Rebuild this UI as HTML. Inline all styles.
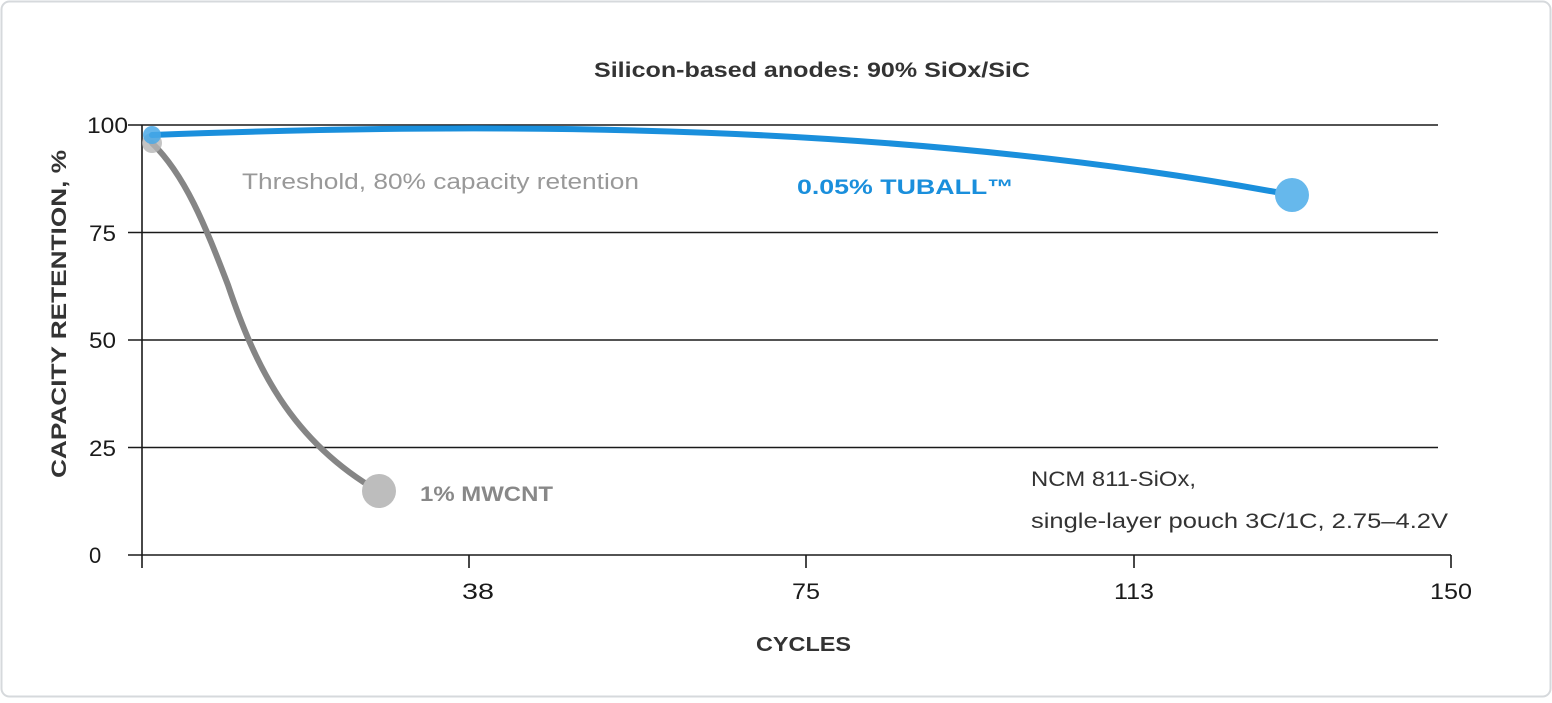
<!DOCTYPE html>
<html><head><style>
html,body{margin:0;padding:0;background:#fff;}
body{width:1552px;height:698px;overflow:hidden;font-family:"Liberation Sans",sans-serif;}
</style></head><body>
<svg width="1552" height="698" viewBox="0 0 1552 698" xmlns="http://www.w3.org/2000/svg" font-family="Liberation Sans, sans-serif">
<rect x="1.5" y="1.5" width="1549" height="695" rx="8" fill="#fff" stroke="#d6d9dc" stroke-width="2"/>
<text x="594" y="77" font-size="21" font-weight="bold" fill="#333" textLength="436" lengthAdjust="spacingAndGlyphs">Silicon-based anodes: 90% SiOx/SiC</text>
<g stroke="#1a1a1a" stroke-width="1.6">
<line x1="128" y1="125" x2="1438" y2="125"/>
<line x1="128" y1="232.5" x2="1438" y2="232.5"/>
<line x1="128" y1="340" x2="1438" y2="340"/>
<line x1="128" y1="447.5" x2="1438" y2="447.5"/>
<line x1="128" y1="555" x2="1451" y2="555"/>
<line x1="142" y1="125" x2="142" y2="568"/>
<line x1="469" y1="555" x2="469" y2="568"/>
<line x1="806" y1="555" x2="806" y2="568"/>
<line x1="1134" y1="555" x2="1134" y2="568"/>
<line x1="1451" y1="555" x2="1451" y2="568"/>
</g>
<g font-size="22" fill="#1a1a1a">
<text x="87" y="133" textLength="41" lengthAdjust="spacingAndGlyphs">100</text>
<text x="89" y="241" textLength="27" lengthAdjust="spacingAndGlyphs">75</text>
<text x="89" y="348" textLength="27" lengthAdjust="spacingAndGlyphs">50</text>
<text x="89" y="456" textLength="27" lengthAdjust="spacingAndGlyphs">25</text>
<text x="89" y="563">0</text>
<text x="462" y="599" textLength="32" lengthAdjust="spacingAndGlyphs">38</text>
<text x="792" y="599" textLength="28" lengthAdjust="spacingAndGlyphs">75</text>
<text x="1114" y="599" textLength="40" lengthAdjust="spacingAndGlyphs">113</text>
<text x="1430" y="599" textLength="42" lengthAdjust="spacingAndGlyphs">150</text>
</g>
<text x="756" y="651" font-size="20" font-weight="bold" fill="#333" textLength="95" lengthAdjust="spacingAndGlyphs">CYCLES</text>
<text transform="translate(66,478) rotate(-90)" font-size="21" font-weight="bold" fill="#333" textLength="328" lengthAdjust="spacingAndGlyphs">CAPACITY RETENTION, %</text>
<text x="242" y="189" font-size="22" fill="#999" textLength="397" lengthAdjust="spacingAndGlyphs">Threshold, 80% capacity retention</text>
<text x="797" y="194" font-size="21" font-weight="bold" fill="#1a8fdc" textLength="217" lengthAdjust="spacingAndGlyphs">0.05% TUBALL™</text>
<text x="420" y="501" font-size="21" font-weight="bold" fill="#888" textLength="133" lengthAdjust="spacingAndGlyphs">1% MWCNT</text>
<text x="1031" y="486" font-size="21" fill="#333" textLength="165" lengthAdjust="spacingAndGlyphs">NCM 811-SiOx,</text>
<text x="1031" y="528" font-size="21" fill="#333" textLength="417" lengthAdjust="spacingAndGlyphs">single-layer pouch 3C/1C, 2.75–4.2V</text>
<path d="M152,143 C185,175 205,225 228,285 C255,365 290,440 378,491" fill="none" stroke="#858585" stroke-width="6" stroke-linecap="round"/>
<circle cx="152" cy="143" r="10" fill="#b5b5b5" opacity="0.8"/>
<circle cx="379" cy="491" r="17" fill="#bdbdbd"/>
<path d="M152,135 C500,122 900,122 1292,195" fill="none" stroke="#1a8fdc" stroke-width="6" stroke-linecap="round"/>
<circle cx="152" cy="135" r="9" fill="#4aa9e8" opacity="0.85"/>
<circle cx="1292" cy="195" r="17" fill="#66b8ec"/>
</svg>
</body></html>
